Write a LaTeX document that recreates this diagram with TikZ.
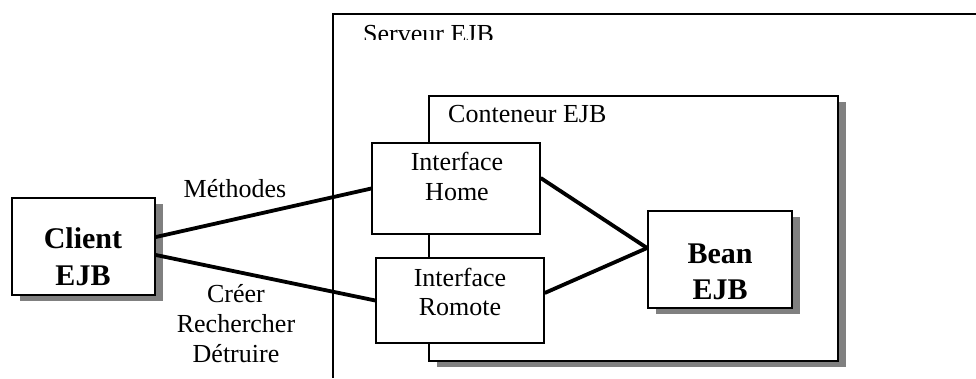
\documentclass[tikz,border=0pt]{standalone}
\usepackage{fontspec}
\setmainfont{Liberation Serif}
\usetikzlibrary{shadows}
\begin{document}
\begin{tikzpicture}[x=1pt,y=-1pt,
  frame/.style={draw=black,line width=1.4pt,fill=white,inner sep=0pt},
  shad/.style={drop shadow={shadow xshift=8pt,shadow yshift=-6pt,opacity=1,fill=black!50}},
  txt/.style={font=\fontsize{26}{30}\selectfont,inner sep=0pt},
  bigtxt/.style={font=\fontsize{30}{37}\selectfont\bfseries,inner sep=0pt},
  link/.style={line width=3.8pt}]
\useasboundingbox (0,0) rectangle (976,378);
% Serveur EJB (extends past the picture)
\draw[line width=1.4pt] (976,14) -- (333,14) -- (333,378);
\begin{scope}
  \clip (333,14) rectangle (600,39);
  \node[txt,anchor=base west] (serveur) at (363,42) {Serveur EJB};
\end{scope}
% Conteneur
\node[frame,shad,minimum width=409pt,minimum height=265pt] (cont) at (633.5,228.5) {};
\node[txt,anchor=base west] (contlbl) at (448,122) {Conteneur EJB};
% Interfaces
\node[frame,minimum width=168pt,minimum height=91pt] (home) at (456,188.5) {};
\node[txt,anchor=base] (home1) at (457,170) {Interface};
\node[txt,anchor=base] (home2) at (457,200) {Home};
\node[frame,minimum width=168pt,minimum height=85pt] (romote) at (460,300.5) {};
\node[txt,anchor=base] (rom1) at (460,286) {Interface};
\node[txt,anchor=base] (rom2) at (460,315) {Romote};
% Client
\node[frame,shad,line width=1.8pt,minimum width=143pt,minimum height=97pt] (client) at (83.5,246.5) {};
\node[bigtxt,anchor=base] (client1) at (83,248) {Client};
\node[bigtxt,anchor=base] (client2) at (83,285) {EJB};
% Bean
\node[frame,shad,line width=1.8pt,minimum width=144pt,minimum height=97pt] (bean) at (720,259.5) {};
\node[bigtxt,anchor=base] (bean1) at (720,263) {Bean};
\node[bigtxt,anchor=base] (bean2) at (720,299) {EJB};
% connectors
\draw[link] ([yshift=9.5pt]client.east) -- (home.west);
\draw[link] ([yshift=-8.5pt]client.east) -- (romote.west);
\draw[link] ([yshift=10.5pt]home.east) -- ([yshift=11.5pt]bean.west);
\draw[link] ([yshift=7.5pt]romote.east) -- ([yshift=11.5pt]bean.west);
% labels
\node[txt,anchor=base] (meth) at (235,197) {Méthodes};
\node[txt,anchor=base] (creer) at (236,302) {Créer};
\node[txt,anchor=base] (rech) at (236,332) {Rechercher};
\node[txt,anchor=base] (detr) at (236,362) {Détruire};
\end{tikzpicture}
\end{document}
